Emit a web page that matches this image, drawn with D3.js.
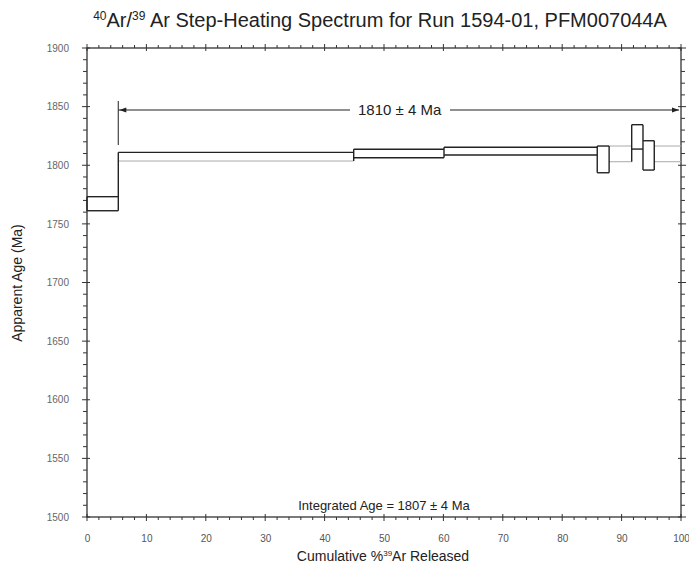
<!DOCTYPE html>
<html><head><meta charset="utf-8">
<script src="https://cdn.jsdelivr.net/npm/d3@7/dist/d3.min.js"></script>
<style>
body{margin:0;background:#fff;}
svg{display:block;font-family:"Liberation Sans",Arial,sans-serif;}
</style></head>
<body><svg id="c" width="689" height="567"></svg>
<script>
// ---- data ----
const stepStart = [0, 5.27, 44.9, 60.1, 85.9, 87.9, 91.7, 93.6, 95.5];
const stepEnd   = [5.27, 44.9, 60.1, 85.9, 87.9, 91.7, 93.6, 95.5, 100];
const stepAge   = [1767.2, 1807.3, 1810.0, 1812.0, 1805.0, 1809.7, 1824.2, 1808.4, 1809.7];
const stepErr   = [6.0, 3.7, 3.6, 3.3, 11.4, 6.7, 10.4, 12.5, 6.7];
const plateauFrom = 5.27, plateauTo = 100;
const plateauText = "1810 ± 4 Ma";
const integratedText = "Integrated Age = 1807 ± 4 Ma";
const xTicks = [0,10,20,30,40,50,60,70,80,90,100];
const yTicks = [1500,1550,1600,1650,1700,1750,1800,1850,1900];

// ---- layout ----
const svg = d3.select("#c");
const L = 87, R = 681, T = 48, B = 517;
const x = d3.scaleLinear().domain([0,100]).range([L,R]);
const y = d3.scaleLinear().domain([1500,1900]).range([B,T]);
const lightSegs = new Set(["1-bot","5-top","5-bot","8-top","8-bot"]);

// frame
svg.append("rect").attr("x",L).attr("y",T).attr("width",R-L).attr("height",B-T)
  .attr("fill","none").attr("stroke","#222").attr("stroke-width",1.2);

function axisTicks(){
  const g = svg.append("g").attr("stroke","#333").attr("stroke-width",1);
  d3.range(0,101,2).forEach(v=>{
    const major = v%10===0;
    const X = x(v);
    g.append("line").attr("x1",X).attr("x2",X).attr("y1",B-(major?3:0)).attr("y2",B+(major?4:3));
    g.append("line").attr("x1",X).attr("x2",X).attr("y1",T+(major?3:0)).attr("y2",T-(major?4:3));
  });
  d3.range(1500,1901,10).forEach(v=>{
    const major = v%50===0;
    const Y = y(v);
    g.append("line").attr("y1",Y).attr("y2",Y).attr("x1",L+(major?3:0)).attr("x2",L-(major?5:4));
    g.append("line").attr("y1",Y).attr("y2",Y).attr("x1",R-(major?3:0)).attr("x2",R+(major?5:4));
  });
}
axisTicks();

// tick labels via d3 axes (lines hidden)
const xAxis = d3.axisBottom(x).tickValues(xTicks).tickSize(0).tickPadding(0).tickFormat(d3.format("d"));
const gx = svg.append("g").attr("transform",`translate(0,${B+18})`).call(xAxis);
gx.select(".domain").remove();
gx.selectAll("text").attr("font-size",10).attr("fill","#555").attr("font-family","Liberation Sans, Arial, sans-serif");

const yAxis = d3.axisLeft(y).tickValues(yTicks).tickSize(0).tickPadding(0).tickFormat(d3.format("d"));
const gy = svg.append("g").attr("transform",`translate(${L-18},0)`).call(yAxis);
gy.select(".domain").remove();
gy.selectAll("text").attr("font-size",10).attr("fill","#666").attr("font-family","Liberation Sans, Arial, sans-serif");

// ---- spectrum ----
const steps = stepStart.map((s,i)=>({s, e:stepEnd[i], top:stepAge[i]+stepErr[i], bot:stepAge[i]-stepErr[i]}));
const sg = svg.append("g").attr("fill","none");
steps.forEach((d,i)=>{
  ["top","bot"].forEach(k=>{
    const light = lightSegs.has(i+"-"+k);
    sg.append("line").attr("x1",x(d.s)).attr("x2",x(d.e)).attr("y1",y(d[k])).attr("y2",y(d[k]))
      .attr("stroke", light ? "#aaa" : "#222").attr("stroke-width", light?1:1.4);
  });
});
steps.forEach((d,i)=>{
  let hi = d.top, lo = d.bot;
  if(i>0){ hi=Math.max(hi,steps[i-1].top); lo=Math.min(lo,steps[i-1].bot); }
  sg.append("line").attr("x1",x(d.s)).attr("x2",x(d.s)).attr("y1",y(hi)).attr("y2",y(lo))
    .attr("stroke","#222").attr("stroke-width",1.4);
});

// ---- plateau arrow ----
const py = 110;
const pg = svg.append("g");
pg.append("line").attr("x1",x(plateauFrom)).attr("x2",x(plateauFrom)).attr("y1",101).attr("y2",145)
  .attr("stroke","#444").attr("stroke-width",1.2);
const ptext = pg.append("text").attr("x",(x(plateauFrom)+x(plateauTo))/2).attr("y",py+5)
  .attr("text-anchor","middle").attr("font-size",15).attr("fill","#222").text(plateauText);
const bb = ptext.node().getBBox();
pg.append("line").attr("x1",x(plateauFrom)).attr("x2",bb.x-8).attr("y1",py).attr("y2",py).attr("stroke","#222").attr("stroke-width",1.2);
pg.append("line").attr("x1",bb.x+bb.width+8).attr("x2",x(plateauTo)-2).attr("y1",py).attr("y2",py).attr("stroke","#222").attr("stroke-width",1.2);
pg.append("path").attr("d",`M${x(plateauFrom)+1},${py} l7,-2.5 l0,5 z`).attr("fill","#222");
pg.append("path").attr("d",`M${x(plateauTo)-2},${py} l-7,-2.5 l0,5 z`).attr("fill","#222");

// ---- texts ----
svg.append("text").attr("x",(L+R)/2).attr("y",B-7).attr("text-anchor","middle")
  .attr("font-size",13).attr("fill","#222").text(integratedText);

const title = svg.append("text").attr("x",380).attr("y",27).attr("text-anchor","middle")
  .attr("font-size",20).attr("fill","#222");
title.append("tspan").attr("font-size",12).attr("dy",-7).text("40");
title.append("tspan").attr("dy",7).text("Ar/");
title.append("tspan").attr("font-size",12).attr("dy",-7).text("39");
title.append("tspan").attr("dy",7).text(" Ar Step-Heating Spectrum for Run 1594-01, PFM007044A");

const xl = svg.append("text").attr("x",383).attr("y",561).attr("text-anchor","middle")
  .attr("font-size",14).attr("fill","#222");
xl.append("tspan").text("Cumulative %");
xl.append("tspan").attr("font-size",8).attr("dy",-5).text("39");
xl.append("tspan").attr("dy",5).text("Ar Released");

svg.append("text").attr("transform","translate(22,283) rotate(-90)").attr("text-anchor","middle")
  .attr("font-size",14).attr("fill","#222").text("Apparent Age (Ma)");
</script></body></html>
